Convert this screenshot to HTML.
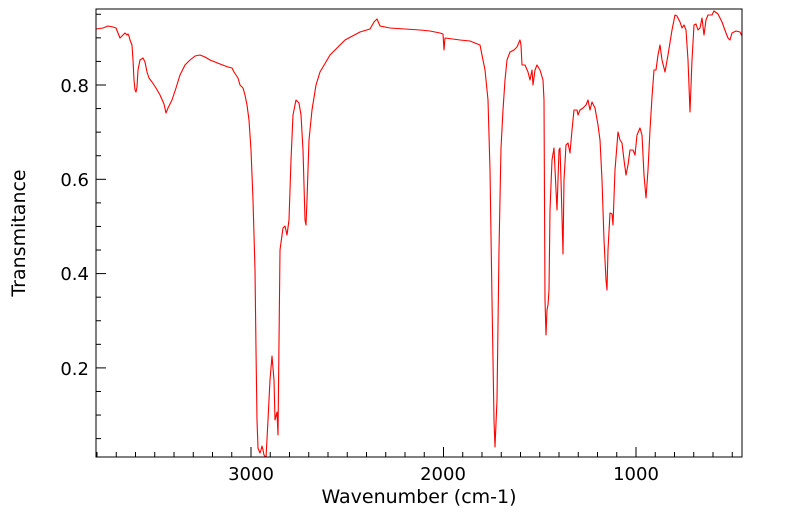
<!DOCTYPE html>
<html><head><meta charset="utf-8"><style>body{margin:0;background:#fff}svg{display:block}text{font-family:"DejaVu Sans","Liberation Sans",sans-serif;fill:#000}</style></head>
<body>
<svg width="799" height="516" viewBox="0 0 799 516">
<defs><clipPath id="c"><rect x="96" y="9" width="646" height="448"/></clipPath></defs>
<polyline clip-path="url(#c)" fill="none" stroke="#ff0000" stroke-width="1.1" stroke-linejoin="round" points="96,29 103,28 108,26 113,27 116,28 118,33 120,38 123,35 125,33 127,35 128,34 129,36 130,40 132,45 133,60 134,80 135,90 136,92 137,87 138,70 140,60 143,58 145,62 147,72 149,78 152,82 156,88 160,95 164,104 166,113 168,108 172,100 176,88 180,75 185,65 190,60 195,56 200,55 205,57 210,60 220,64 228,67 232,68 234,72 238,78 240,85 243,88 245,95 247,105 249,120 251,150 253,200 255,270 256,350 257,420 258,448 260,453 261,450 262,446 263,450 264,455 266,458 268,420 270,380 272,356 274,380 275,420 277,412 278,435 280,250 283,228 285,226 287,235 289,220 291,160 293,115 296,100 299,103 301,115 303,150 305,220 306,225 307,200 309,140 312,110 316,85 320,72 330,55 345,40 360,32 370,29 374,22 377,19 380,26 390,28 420,30 430,31 440,33 443,34 444,50 445,38 460,40 470,41 480,45 485,70 488,100 490,170 492,300 494,420 495,447 497,400 499,250 501,148 503,110 505,80 507,60 510,52 514,50 517,47 520,40 521,45 522,65 525,65 528,72 530,80 532,70 533,85 535,70 537,65 540,70 543,80 544,100 545,300 546,335 547,310 548,305 549,290 550,210 552,160 554,148 556,190 557,210 559,150 560,148 561,180 563,254 564,180 566,145 568,143 570,153 572,130 574,110 577,110 578,115 580,110 583,108 586,105 588,100 590,110 592,102 595,108 598,125 600,140 602,180 604,240 606,280 607,290 608,250 610,213 612,214 613,225 615,170 618,132 620,140 622,143 624,160 626,175 628,165 630,150 633,150 635,155 637,135 640,128 642,135 644,175 646,198 648,170 650,130 652,97 654,70 656,70 658,55 660,45 662,60 665,72 668,55 672,30 675,15 677,16 680,22 682,28 684,25 686,30 688,60 690,112 692,60 694,25 696,24 698,30 700,28 702,18 704,35 706,20 708,15 712,15 714,11 718,14 722,22 726,33 728,38 730,40 732,33 736,31 740,32 742,36"/>
<rect x="96" y="9" width="646" height="448" fill="none" stroke="#000" stroke-width="1"/>
<g stroke="#000" stroke-width="1" id="ticks"></g>
<text x="251" y="480" font-size="18" text-anchor="middle">3000</text>
<text x="443" y="480" font-size="18" text-anchor="middle">2000</text>
<text x="636" y="480" font-size="18" text-anchor="middle">1000</text>
<text x="419" y="503" font-size="19" text-anchor="middle">Wavenumber (cm-1)</text>
<text x="89" y="92" font-size="18" text-anchor="end">0.8</text>
<text x="89" y="186" font-size="18" text-anchor="end">0.6</text>
<text x="89" y="280" font-size="18" text-anchor="end">0.4</text>
<text x="89" y="375" font-size="18" text-anchor="end">0.2</text>
<text transform="translate(25,233) rotate(-90)" font-size="19" text-anchor="middle">Transmitance</text>
</svg>
<script>
var g=document.getElementById('ticks'),s='';
for(var w=3800;w>=500;w-=100){var x=251+(3000-w)*0.1925;if(x<96||x>742)continue;var L=(w%1000==0)?10:5;s+='<line x1="'+x+'" y1="457" x2="'+x+'" y2="'+(457-L)+'"/>';}
for(var t=0.05;t<0.96;t+=0.05){var y=85+(0.8-t)*471.5;if(y<9||y>457)continue;var m=Math.abs(t*10-Math.round(t*10))<0.01&&Math.round(t*10)%2==0;s+='<line x1="96" y1="'+y+'" x2="'+(m?106:101)+'" y2="'+y+'"/>';}
g.innerHTML=s;
</script>
</body></html>
